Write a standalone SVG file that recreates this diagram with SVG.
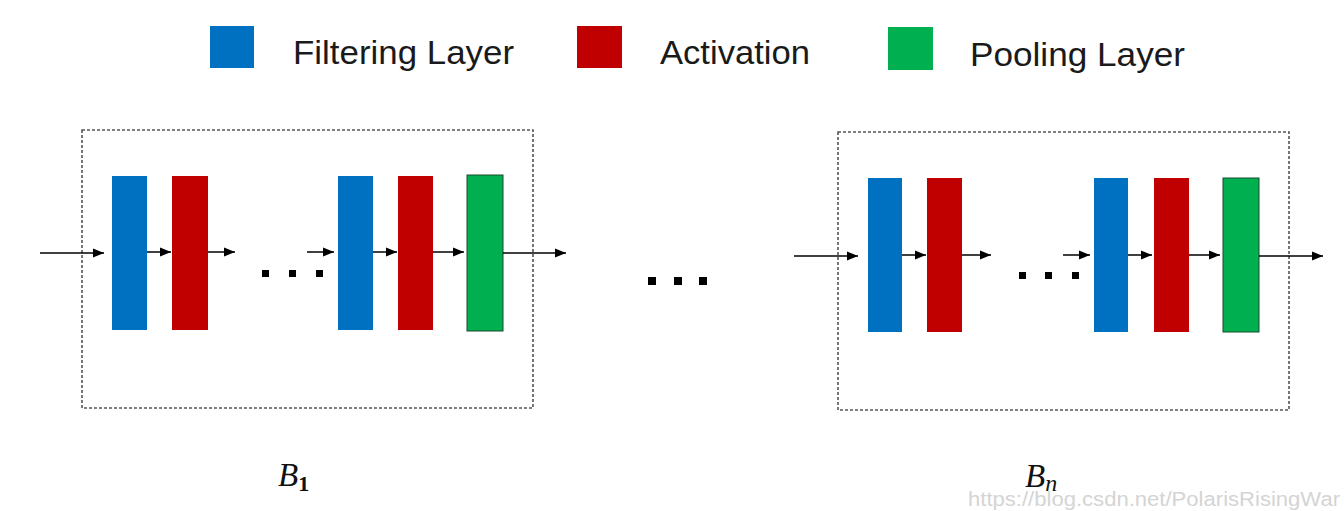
<svg xmlns="http://www.w3.org/2000/svg" width="1344" height="511" viewBox="0 0 1344 511">
<style>
.lg{font-family:"Liberation Sans",Arial,sans-serif;font-size:33px;fill:#1a1a1a}
.blue{fill:#0070C0}
.red{fill:#C00000}
.green{fill:#00B050;stroke:#1a4a2a;stroke-width:1}
.box{fill:none;stroke:#555;stroke-width:1.6;stroke-dasharray:3 2}
.ar{stroke:#000;stroke-width:1.5;fill:none;marker-end:url(#ah)}
.dot{fill:#000}
.bl{font-family:"Liberation Serif","Times New Roman",serif;font-size:33px;fill:#111}
.wm{font-family:"Liberation Sans",Arial,sans-serif;font-size:20px;fill:#d4d4d4}
</style>
<defs>
<marker id="ah" markerUnits="userSpaceOnUse" markerWidth="12" markerHeight="10" refX="11" refY="5" orient="auto">
<path d="M0,0.5 L11,5 L0,9.5 z" fill="#000"/>
</marker>
</defs>
<rect width="1344" height="511" fill="#fff"/>
<g id="legend">
<rect class="blue" x="210" y="26" width="44" height="42"/>
<text class="lg" x="293" y="64" textLength="221" lengthAdjust="spacingAndGlyphs">Filtering Layer</text>
<rect class="red" x="577" y="26" width="45" height="42"/>
<text class="lg" x="660" y="64" textLength="150" lengthAdjust="spacingAndGlyphs">Activation</text>
<rect x="888" y="27" width="45" height="43" fill="#00B050"/>
<text class="lg" x="970" y="66" textLength="215" lengthAdjust="spacingAndGlyphs">Pooling Layer</text>
</g>
<g id="block1">
<rect class="box" x="82" y="130" width="451" height="278"/>
<rect class="blue" x="112" y="176" width="35" height="154"/>
<rect class="red" x="172" y="176" width="36" height="154"/>
<rect class="blue" x="338" y="176" width="35" height="154"/>
<rect class="red" x="398" y="176" width="35" height="154"/>
<rect class="green" x="467" y="175" width="36" height="156"/>
<rect class="dot" x="262" y="270" width="7" height="7"/>
<rect class="dot" x="289" y="270" width="7" height="7"/>
<rect class="dot" x="316" y="270" width="7" height="7"/>
<text class="bl" x="278" y="486"><tspan font-style="italic">B</tspan><tspan font-size="22" dy="5" font-weight="bold">1</tspan></text>
</g>
<g id="blockn">
<rect class="box" x="838" y="132" width="451" height="278"/>
<rect class="blue" x="868" y="178" width="34" height="154"/>
<rect class="red" x="927" y="178" width="35" height="154"/>
<rect class="blue" x="1094" y="178" width="34" height="154"/>
<rect class="red" x="1154" y="178" width="35" height="154"/>
<rect class="green" x="1223" y="178" width="36" height="154"/>
<rect class="dot" x="1019" y="272" width="7" height="7"/>
<rect class="dot" x="1045" y="272" width="7" height="7"/>
<rect class="dot" x="1072" y="272" width="7" height="7"/>
<text class="bl" x="1025" y="487"><tspan font-style="italic">B</tspan><tspan font-style="italic" font-size="24" dy="4">n</tspan></text>
</g>
<g id="middle">
<rect class="dot" x="648" y="277" width="8" height="8"/>
<rect class="dot" x="674" y="277" width="8" height="8"/>
<rect class="dot" x="699" y="277" width="8" height="8"/>
</g>
<g id="connectors">
<line class="ar" x1="40" y1="253" x2="104" y2="253"/>
<line class="ar" x1="147" y1="252" x2="171" y2="252"/>
<line class="ar" x1="208" y1="252" x2="235" y2="252"/>
<line class="ar" x1="307" y1="252" x2="334" y2="252"/>
<line class="ar" x1="373" y1="252" x2="397" y2="252"/>
<line class="ar" x1="433" y1="252" x2="464" y2="252"/>
<line class="ar" x1="503" y1="253" x2="566" y2="253"/>
<line class="ar" x1="794" y1="256" x2="858" y2="256"/>
<line class="ar" x1="902" y1="255" x2="926" y2="255"/>
<line class="ar" x1="962" y1="255" x2="991" y2="255"/>
<line class="ar" x1="1063" y1="255" x2="1090" y2="255"/>
<line class="ar" x1="1128" y1="255" x2="1152" y2="255"/>
<line class="ar" x1="1189" y1="255" x2="1220" y2="255"/>
<line class="ar" x1="1259" y1="256" x2="1323" y2="256"/>
</g>
<text class="wm" x="968" y="506" textLength="372" lengthAdjust="spacingAndGlyphs">https://blog.csdn.net/PolarisRisingWar</text>
</svg>
